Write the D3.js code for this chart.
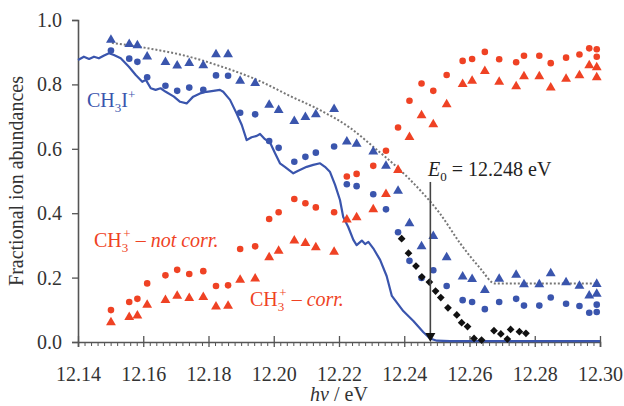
<!DOCTYPE html>
<html><head><meta charset="utf-8">
<script src="https://cdn.jsdelivr.net/npm/d3@7"></script>
<style>
html,body{margin:0;padding:0;background:#fff;}
svg{display:block;}
svg text{font-family:"Liberation Serif","DejaVu Serif",serif;}
</style></head><body>
<svg id="chart" width="624" height="406"></svg>
<script>
// ---------- DATA ----------
const energies = [12.1501,12.1557,12.1582,12.1612,12.1668,12.1704,12.1741,12.1784,12.1823,12.1860,12.1897,12.1943,12.1986,12.2015,12.2063,12.2097,12.2129,12.2185,12.2224,12.2254,12.2305,12.2344,12.2381,12.2416,12.2453,12.2489,12.2530,12.2579,12.2608,12.2647,12.2691,12.2743,12.2767,12.2814,12.2849,12.2896,12.2937,12.2967,12.2990,12.2990];
const ch3iNotCorr = [0.938,0.925,0.921,0.886,0.869,0.858,0.866,0.859,0.893,0.893,0.811,0.804,0.736,0.720,0.686,0.698,0.707,0.723,0.622,0.615,0.591,0.547,0.469,0.368,0.297,0.329,0.263,0.203,0.195,0.161,0.196,0.208,0.179,0.179,0.213,0.185,0.174,0.144,0.149,0.180];
const ch3iCorr = [0.905,0.880,0.870,0.822,0.796,0.780,0.790,0.783,0.828,0.827,0.712,0.707,0.624,0.603,0.560,0.575,0.588,0.607,0.490,0.484,0.459,0.412,0.341,0.252,0.199,0.223,0.174,0.130,0.124,0.102,0.124,0.134,0.113,0.113,0.138,0.119,0.112,0.091,0.093,0.116];
const ch3NotCorr = [0.099,0.124,0.134,0.182,0.207,0.224,0.211,0.220,0.174,0.176,0.289,0.297,0.382,0.403,0.444,0.431,0.418,0.403,0.514,0.522,0.547,0.594,0.666,0.749,0.803,0.780,0.829,0.873,0.879,0.901,0.878,0.869,0.889,0.889,0.866,0.883,0.893,0.912,0.909,0.886];
const ch3Corr = [0.061,0.077,0.082,0.115,0.130,0.143,0.136,0.139,0.110,0.112,0.193,0.197,0.263,0.283,0.315,0.307,0.294,0.280,0.380,0.387,0.412,0.459,0.534,0.636,0.704,0.676,0.738,0.801,0.811,0.841,0.808,0.794,0.825,0.825,0.790,0.817,0.828,0.859,0.853,0.822];

const diamondE = [12.2392,12.2413,12.2436,12.2454,12.2477,12.2496,12.2512,12.2534,12.2561,12.2576,12.2594,12.2614,12.2637,12.2675,12.2696,12.2716,12.2726,12.2753,12.2773];
const diamondV = [0.321,0.276,0.236,0.202,0.186,0.158,0.138,0.106,0.084,0.060,0.048,0.011,0.006,0.035,0.025,0.009,0.039,0.032,0.027];

const lineE = [12.1400,12.1418,12.1434,12.1449,12.1464,12.1480,12.1495,12.1510,12.1531,12.1556,12.1577,12.1597,12.1608,12.1623,12.1638,12.1653,12.1669,12.1694,12.1713,12.1733,12.1753,12.1774,12.1794,12.1815,12.1835,12.1845,12.1866,12.1886,12.1902,12.1917,12.1932,12.1948,12.1958,12.1973,12.1989,12.2004,12.2019,12.2034,12.2060,12.2075,12.2101,12.2121,12.2142,12.2157,12.2172,12.2188,12.2203,12.2213,12.2228,12.2244,12.2254,12.2270,12.2280,12.2290,12.2305,12.2326,12.2346,12.2362,12.2397,12.2428,12.2458,12.2479,12.2500,12.2540,12.3000];
const lineV = [0.876,0.886,0.879,0.886,0.881,0.890,0.897,0.891,0.881,0.855,0.829,0.808,0.814,0.788,0.783,0.788,0.777,0.762,0.746,0.741,0.762,0.772,0.777,0.780,0.783,0.777,0.752,0.710,0.674,0.627,0.636,0.640,0.646,0.630,0.619,0.586,0.555,0.544,0.524,0.532,0.544,0.550,0.555,0.544,0.529,0.488,0.441,0.388,0.358,0.317,0.301,0.315,0.304,0.311,0.291,0.255,0.205,0.143,0.096,0.065,0.031,0.011,0.004,0.003,0.003];

const fitE = [12.1504,12.1621,12.1725,12.1835,12.1958,12.2050,12.2142,12.2234,12.2310,12.2381,12.2448,12.2510,12.2571,12.2632,12.2678,12.2991];
const fitV = [0.929,0.911,0.890,0.857,0.810,0.764,0.720,0.665,0.602,0.540,0.472,0.398,0.307,0.230,0.182,0.182];

const xTicks = [12.14,12.16,12.18,12.20,12.22,12.24,12.26,12.28,12.30];
const yTicks = [0.0,0.2,0.4,0.6,0.8,1.0];
const E0 = 12.248;
const E0Top = 0.497;

// ---------- STYLE ----------
const FONT = "'Liberation Serif','DejaVu Serif',serif";
const BLUE = "#3a55ad", RED = "#ef4224", AXIS = "#555";
const svg = d3.select("#chart");
const x = d3.scaleLinear().domain([12.14, 12.30]).range([78, 600]);
const y = d3.scaleLinear().domain([0, 1]).range([342, 20]);

// axes
const minorTicks = d3.range(0, 81).map(i => +(12.14 + i*0.002).toFixed(3)).filter(v => !xTicks.some(t => Math.abs(t - v) < 1e-6));
const gMinor = svg.append("g").attr("transform", `translate(0,${y(0)})`)
  .call(d3.axisBottom(x).tickValues(minorTicks).tickSize(4).tickFormat(""));
gMinor.select(".domain").remove();
gMinor.selectAll("line").attr("stroke", AXIS).attr("stroke-width", 1);

const gx = svg.append("g").attr("transform", `translate(0,${y(0)})`)
  .call(d3.axisBottom(x).tickValues(xTicks).tickSizeOuter(0).tickSize(5).tickPadding(20).tickFormat(d3.format(".2f")));
gx.attr("font-family", FONT);
gx.select(".domain").attr("stroke", AXIS).attr("stroke-width", 1.6);
gx.selectAll(".tick line").attr("y1", -6).attr("y2", 5).attr("stroke", AXIS).attr("stroke-width", 1.3);
gx.selectAll(".tick text").attr("font-size", 20).attr("fill", "#333");

const gy = svg.append("g").attr("transform", `translate(${x(12.14)},0)`)
  .call(d3.axisLeft(y).tickValues(yTicks).tickSizeOuter(0).tickSize(6).tickPadding(10).tickFormat(d3.format(".1f")));
gy.attr("font-family", FONT);
gy.select(".domain").attr("stroke", AXIS).attr("stroke-width", 1.6);
gy.selectAll(".tick line").attr("stroke", AXIS).attr("stroke-width", 1.3);
gy.selectAll(".tick text").attr("font-size", 20).attr("fill", "#333");

// axis titles
svg.append("text").attr("transform", `translate(23,${(y(0)+y(1))/2}) rotate(-90)`)
  .attr("text-anchor", "middle").attr("font-size", 20).attr("fill", "#333").text("Fractional ion abundances");
const xt = svg.append("text").attr("x", (x(12.14)+x(12.30))/2).attr("y", 401)
  .attr("text-anchor", "middle").attr("font-size", 20).attr("fill", "#333");
xt.append("tspan").attr("font-style", "italic").text("hν");
xt.append("tspan").text(" / eV");

// fit curve (dotted)
svg.append("path").datum(fitE.map((e,i)=>[e, fitV[i]]))
  .attr("fill","none").attr("stroke","#777").attr("stroke-width",2).attr("stroke-dasharray","2,2")
  .attr("d", d3.line().x(d=>x(d[0])).y(d=>y(d[1])).curve(d3.curveMonotoneX));

// CH3I+ line
svg.append("path").datum(lineE.map((e,i)=>[e, lineV[i]]))
  .attr("fill","none").attr("stroke",BLUE).attr("stroke-width",2.2).attr("stroke-linejoin","round")
  .attr("d", d3.line().x(d=>x(d[0])).y(d=>y(d[1])));

// markers
const tri = d3.symbol().type(d3.symbolTriangle).size(42)();
function circles(vals, color){
  svg.append("g").selectAll("circle").data(vals).join("circle")
    .attr("cx",(d,i)=>x(energies[i])).attr("cy",d=>y(d)).attr("r",3.3).attr("fill",color);
}
function triangles(vals, color){
  svg.append("g").selectAll("path").data(vals).join("path")
    .attr("d",tri).attr("transform",(d,i)=>`translate(${x(energies[i])},${y(d)})`).attr("fill",color);
}
triangles(ch3iNotCorr, BLUE);
circles(ch3iCorr, BLUE);
circles(ch3NotCorr, RED);
triangles(ch3Corr, RED);

// diamonds
const sq = d3.symbol().type(d3.symbolSquare).size(30)();
svg.append("g").selectAll("path").data(diamondV).join("path")
  .attr("d", sq).attr("transform",(d,i)=>`translate(${x(diamondE[i])},${y(d)}) rotate(45)`).attr("fill","#111");

// E0 marker line with arrow
svg.append("line").attr("x1",x(E0)).attr("x2",x(E0)).attr("y1",y(E0Top)).attr("y2",y(0)-6)
  .attr("stroke","#444").attr("stroke-width",1.6);
svg.append("path").attr("d",`M${x(E0)-5},${y(0)-9} L${x(E0)+5},${y(0)-9} L${x(E0)},${y(0)} Z`).attr("fill","#111");

// labels
const l1 = svg.append("text").attr("x",87).attr("y",107).attr("font-size",20).attr("fill",BLUE);
l1.append("tspan").text("CH");
l1.append("tspan").attr("font-size",13).attr("dy",5).text("3");
l1.append("tspan").attr("dy",-5).text("I");
l1.append("tspan").attr("font-size",13).attr("dy",-8).text("+");

function ch3Label(xp, yp, tail){
  const t = svg.append("text").attr("x",xp).attr("y",yp).attr("font-size",20).attr("fill",RED);
  t.append("tspan").text("CH");
  t.append("tspan").attr("font-size",13).attr("dy",5).text("3");
  t.append("tspan").attr("font-size",13).attr("dy",-14).attr("dx",-5).text("+");
  t.append("tspan").attr("dy",9).text(" – ");
  t.append("tspan").attr("font-style","italic").text(tail);
}
ch3Label(94, 247, "not corr.");
ch3Label(250, 306, "corr.");

const l4 = svg.append("text").attr("x",428).attr("y",176).attr("font-size",20).attr("fill","#222");
l4.append("tspan").attr("font-style","italic").text("E");
l4.append("tspan").attr("font-size",13).attr("dy",5).text("0");
l4.append("tspan").attr("dy",-5).text(" = 12.248 eV");

svg.selectAll("text").attr("font-family", FONT);
</script>
</body></html>
